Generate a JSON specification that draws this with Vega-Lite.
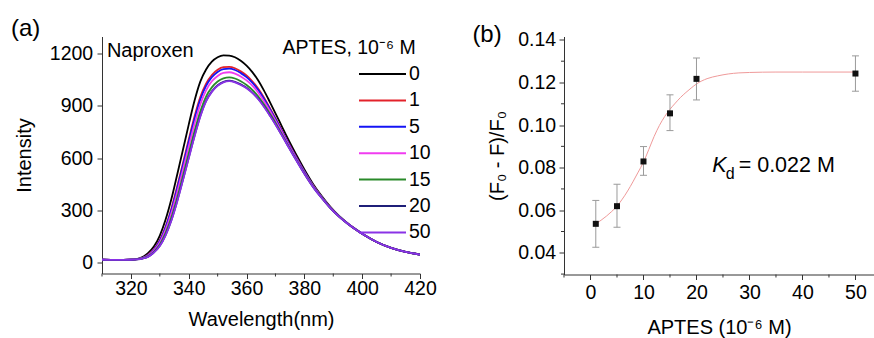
{
  "$schema": "https://vega.github.io/schema/vega-lite/v6.json",
  "padding": {"left": 10, "top": 16.5, "right": 0, "bottom": 0},
  "config": {
    "font": "Liberation Sans",
    "view": {"stroke": null},
    "concat": {"spacing": 144},
    "axis": {
      "domainColor": "#333", "tickColor": "#333", "labelColor": "#000", "titleColor": "#000",
      "labelFont": "Liberation Sans", "titleFont": "Liberation Sans",
      "labelFontSize": 19.5, "titleFontSize": 20, "titleFontWeight": "normal",
      "grid": false, "domainWidth": 1, "tickWidth": 1, "labelFlush": false, "labelOverlap": false
    }
  },
  "datasets": {
    "spectra": [
      {"wl":310,"s0":16,"s1":16,"s5":16,"s10":16,"s15":16,"s20":16,"s50":16},
      {"wl":315,"s0":15,"s1":15,"s5":15,"s10":15,"s15":15,"s20":15,"s50":15},
      {"wl":320,"s0":16,"s1":16,"s5":16,"s10":16,"s15":16,"s20":16,"s50":16},
      {"wl":322,"s0":20,"s1":19,"s5":19,"s10":19,"s15":18,"s20":18,"s50":18},
      {"wl":324,"s0":31,"s1":27,"s5":27,"s10":26,"s15":24,"s20":23,"s50":23},
      {"wl":326,"s0":55,"s1":46,"s5":44,"s10":41,"s15":37,"s20":34,"s50":34},
      {"wl":328,"s0":93,"s1":78,"s5":75,"s10":70,"s15":63,"s20":59,"s50":58},
      {"wl":330,"s0":155,"s1":129,"s5":124,"s10":116,"s15":104,"s20":96,"s50":95},
      {"wl":332,"s0":247,"s1":207,"s5":201,"s10":188,"s15":170,"s20":158,"s50":156},
      {"wl":334,"s0":365,"s1":311,"s5":302,"s10":285,"s15":260,"s20":244,"s50":242},
      {"wl":336,"s0":505,"s1":437,"s5":426,"s10":404,"s15":373,"s20":353,"s50":350},
      {"wl":338,"s0":648,"s1":571,"s5":559,"s10":534,"s15":499,"s20":476,"s50":473},
      {"wl":340,"s0":793,"s1":708,"s5":694,"s10":667,"s15":628,"s20":603,"s50":599},
      {"wl":342,"s0":930,"s1":839,"s5":825,"s10":796,"s15":755,"s20":728,"s50":724},
      {"wl":344,"s0":1040,"s1":951,"s5":937,"s10":909,"s15":868,"s20":842,"s50":838},
      {"wl":346,"s0":1110,"s1":1029,"s5":1016,"s10":990,"s15":954,"s20":930,"s50":926},
      {"wl":348,"s0":1155,"s1":1078,"s5":1066,"s10":1042,"s15":1007,"s20":984,"s50":981},
      {"wl":350,"s0":1180,"s1":1108,"s5":1096,"s10":1073,"s15":1041,"s20":1019,"s50":1016},
      {"wl":352,"s0":1191,"s1":1123,"s5":1112,"s10":1090,"s15":1059,"s20":1039,"s50":1036},
      {"wl":354,"s0":1190,"s1":1125,"s5":1115,"s10":1094,"s15":1065,"s20":1046,"s50":1043},
      {"wl":356,"s0":1180,"s1":1117,"s5":1107,"s10":1086,"s15":1058,"s20":1039,"s50":1036},
      {"wl":358,"s0":1160,"s1":1099,"s5":1089,"s10":1070,"s15":1042,"s20":1024,"s50":1021},
      {"wl":360,"s0":1132,"s1":1075,"s5":1066,"s10":1047,"s15":1021,"s20":1005,"s50":1002},
      {"wl":362,"s0":1095,"s1":1042,"s5":1034,"s10":1017,"s15":993,"s20":977,"s50":975},
      {"wl":364,"s0":1048,"s1":1000,"s5":993,"s10":978,"s15":956,"s20":942,"s50":940},
      {"wl":366,"s0":990,"s1":949,"s5":942,"s10":929,"s15":910,"s20":898,"s50":896},
      {"wl":368,"s0":925,"s1":890,"s5":885,"s10":874,"s15":858,"s20":848,"s50":846},
      {"wl":370,"s0":858,"s1":830,"s5":825,"s10":816,"s15":804,"s20":795,"s50":794},
      {"wl":372,"s0":790,"s1":767,"s5":763,"s10":756,"s15":745,"s20":738,"s50":737},
      {"wl":374,"s0":722,"s1":703,"s5":700,"s10":694,"s15":685,"s20":680,"s50":679},
      {"wl":376,"s0":657,"s1":641,"s5":639,"s10":634,"s15":626,"s20":622,"s50":621},
      {"wl":378,"s0":595,"s1":582,"s5":580,"s10":575,"s15":569,"s20":566,"s50":565},
      {"wl":380,"s0":535,"s1":524,"s5":523,"s10":519,"s15":515,"s20":511,"s50":511},
      {"wl":383,"s0":452,"s1":445,"s5":443,"s10":441,"s15":438,"s20":435,"s50":435},
      {"wl":386,"s0":382,"s1":377,"s5":376,"s10":375,"s15":373,"s20":371,"s50":371},
      {"wl":389,"s0":320,"s1":317,"s5":316,"s10":315,"s15":314,"s20":313,"s50":313},
      {"wl":392,"s0":268,"s1":266,"s5":266,"s10":265,"s15":265,"s20":264,"s50":264},
      {"wl":395,"s0":225,"s1":224,"s5":224,"s10":224,"s15":223,"s20":223,"s50":223},
      {"wl":398,"s0":188,"s1":188,"s5":188,"s10":187,"s15":187,"s20":187,"s50":187},
      {"wl":401,"s0":155,"s1":155,"s5":155,"s10":155,"s15":155,"s20":155,"s50":155},
      {"wl":405,"s0":118,"s1":118,"s5":118,"s10":118,"s15":118,"s20":118,"s50":118},
      {"wl":410,"s0":84,"s1":84,"s5":84,"s10":84,"s15":84,"s20":84,"s50":84},
      {"wl":415,"s0":61,"s1":61,"s5":61,"s10":61,"s15":61,"s20":61,"s50":61},
      {"wl":420,"s0":46,"s1":46,"s5":46,"s10":46,"s15":46,"s20":46,"s50":46}
    ],
    "points": [
      {"c":1,"r":0.0536,"lo":0.0426,"hi":0.0646},
      {"c":5,"r":0.0619,"lo":0.052,"hi":0.0722},
      {"c":10,"r":0.0829,"lo":0.0764,"hi":0.0899},
      {"c":15,"r":0.1055,"lo":0.0974,"hi":0.1142},
      {"c":20,"r":0.1217,"lo":0.1118,"hi":0.1315},
      {"c":50,"r":0.1242,"lo":0.1159,"hi":0.1325}
    ],
    "fit": [
      {"c":1,"r":0.0536},{"c":2,"r":0.0553},{"c":3,"r":0.0572},{"c":4,"r":0.0594},{"c":5,"r":0.0619},
      {"c":6,"r":0.0652},{"c":7,"r":0.069},{"c":8,"r":0.0733},{"c":9,"r":0.0779},{"c":10,"r":0.0826},
      {"c":11,"r":0.0885},{"c":12,"r":0.0946},{"c":13,"r":0.0998},{"c":14,"r":0.104},{"c":15,"r":0.1074},
      {"c":16,"r":0.1103},{"c":17,"r":0.113},{"c":18,"r":0.1153},{"c":19,"r":0.1174},{"c":20,"r":0.1193},
      {"c":22,"r":0.1218},{"c":24,"r":0.1231},{"c":26,"r":0.124},{"c":28,"r":0.1245},{"c":30,"r":0.1247},
      {"c":35,"r":0.1249},{"c":40,"r":0.1249},{"c":50,"r":0.1249}
    ],
    "aMinorX": [{"v":310},{"v":330},{"v":350},{"v":370},{"v":390},{"v":410}],
    "bMinorX": [{"v":-5},{"v":5},{"v":15},{"v":25},{"v":35},{"v":45}],
    "bMinorY": [{"v":0.03},{"v":0.05},{"v":0.07},{"v":0.09},{"v":0.11},{"v":0.13}]
  },
  "bounds": "flush",
  "hconcat": [
    {
      "width": 318,
      "height": 237,
      "layer": [
        {
          "data": {"name": "spectra"},
          "transform": [{"fold": ["s0","s1","s5","s10","s15","s20","s50"], "as": ["series","intensity"]}],
          "mark": {"type": "line", "strokeWidth": 1.8, "interpolate": "monotone"},
          "encoding": {
            "x": {
              "field": "wl", "type": "quantitative",
              "scale": {"domain": [310, 420], "nice": false, "zero": false},
              "axis": {
                "title": "Wavelength(nm)",
                "values": [320,340,360,380,400,420],
                "format": "d",
                "tickSize": 5,
                "labelPadding": 0.5, "titlePadding": 12
              }
            },
            "y": {
              "field": "intensity", "type": "quantitative",
              "scale": {"domain": [-63, 1299.5], "nice": false, "zero": false},
              "axis": {
                "title": "Intensity",
                "values": [0,150,300,450,600,750,900,1050,1200],
                "format": "d",
                "labelExpr": "datum.value % 300 === 0 ? datum.label : ''",
                "tickSize": {"condition": {"test": "datum.value % 300 === 0", "value": 5}, "value": 3},
                "labelPadding": 4.3, "titlePadding": 15
              }
            },
            "color": {
              "field": "series", "type": "nominal",
              "scale": {
                "domain": ["s0","s1","s5","s10","s15","s20","s50"],
                "range": ["#000000","#e3222b","#1414f5","#f03cf0","#2a8a2a","#1f1f78","#8a32e6"]
              },
              "legend": {
                "orient": "none", "legendX": 256, "legendY": 28, "title": null,
                "symbolType": "stroke", "symbolSize": 2209, "symbolStrokeWidth": 2,
                "clipHeight": 19, "rowPadding": 6.4, "padding": 0,
                "labelFontSize": 19.5, "labelFont": "Liberation Sans", "labelColor": "#000",
                "labelOffset": 2, "labelLimit": 0,
                "labelExpr": "replace(datum.label, 's', '')"
              }
            }
          }
        },
        {
          "data": {"name": "aMinorX"},
          "mark": {"type": "tick", "orient": "vertical", "color": "#333", "size": 3, "thickness": 1, "opacity": 1, "yOffset": 1.5},
          "encoding": {
            "x": {"field": "v", "type": "quantitative"},
            "y": {"datum": -63, "type": "quantitative"}
          }
        },
        {
          "data": {"values": [{}]},
          "mark": {"type": "text", "text": "(a)", "align": "left", "baseline": "alphabetic", "fontSize": 24, "font": "Liberation Sans", "color": "#000"},
          "encoding": {
            "x": {"datum": 278.5, "type": "quantitative"},
            "y": {"datum": 1301, "type": "quantitative"}
          }
        },
        {
          "data": {"values": [{}]},
          "mark": {"type": "text", "text": "Naproxen", "align": "left", "baseline": "alphabetic", "fontSize": 20, "font": "Liberation Sans", "color": "#000"},
          "encoding": {
            "x": {"datum": 311.7, "type": "quantitative"},
            "y": {"datum": 1180, "type": "quantitative"}
          }
        },
        {
          "data": {"values": [{}]},
          "mark": {"type": "text", "text": "APTES, 10⁻⁶ M", "align": "right", "baseline": "alphabetic", "fontSize": 19.5, "font": "Liberation Sans", "color": "#000"},
          "encoding": {
            "x": {"datum": 418.5, "type": "quantitative"},
            "y": {"datum": 1200, "type": "quantitative"}
          }
        }
      ]
    },
    {
      "width": 310,
      "height": 238,
      "layer": [
        {
          "data": {"name": "fit"},
          "mark": {"type": "line", "color": "#ef9a9a", "strokeWidth": 1, "interpolate": "monotone"},
          "encoding": {
            "x": {
              "field": "c", "type": "quantitative",
              "scale": {"domain": [-5, 53.5], "nice": false, "zero": false},
              "axis": {
                "title": "APTES (10⁻⁶ M)",
                "values": [0,10,20,30,40,50],
                "tickSize": 5,
                "labelPadding": 4.2, "titlePadding": 15
              }
            },
            "y": {
              "field": "r", "type": "quantitative",
              "scale": {"domain": [0.0298, 0.1416], "nice": false, "zero": false},
              "axis": {
                "title": "(F₀ - F)/F₀",
                "values": [0.04,0.06,0.08,0.1,0.12,0.14],
                "format": ".2f",
                "tickSize": 5,
                "labelPadding": 3.3, "titlePadding": 10
              }
            }
          }
        },
        {
          "data": {"name": "bMinorX"},
          "mark": {"type": "tick", "orient": "vertical", "color": "#333", "size": 3, "thickness": 1, "opacity": 1, "yOffset": 1.5},
          "encoding": {
            "x": {"field": "v", "type": "quantitative"},
            "y": {"datum": 0.0298, "type": "quantitative"}
          }
        },
        {
          "data": {"name": "bMinorY"},
          "mark": {"type": "tick", "orient": "horizontal", "color": "#333", "size": 3, "thickness": 1, "opacity": 1, "xOffset": -1.5},
          "encoding": {
            "x": {"datum": -5, "type": "quantitative"},
            "y": {"field": "v", "type": "quantitative"}
          }
        },
        {
          "data": {"name": "points"},
          "mark": {"type": "rule", "color": "#9a9a9a", "strokeWidth": 1},
          "encoding": {
            "x": {"field": "c", "type": "quantitative"},
            "y": {"field": "lo", "type": "quantitative"},
            "y2": {"field": "hi"}
          }
        },
        {
          "data": {"name": "points"},
          "mark": {"type": "tick", "orient": "horizontal", "color": "#9a9a9a", "size": 7, "thickness": 1, "opacity": 1},
          "encoding": {
            "x": {"field": "c", "type": "quantitative"},
            "y": {"field": "lo", "type": "quantitative"}
          }
        },
        {
          "data": {"name": "points"},
          "mark": {"type": "tick", "orient": "horizontal", "color": "#9a9a9a", "size": 7, "thickness": 1, "opacity": 1},
          "encoding": {
            "x": {"field": "c", "type": "quantitative"},
            "y": {"field": "hi", "type": "quantitative"}
          }
        },
        {
          "data": {"name": "points"},
          "mark": {"type": "point", "shape": "square", "filled": true, "size": 36, "color": "#111", "opacity": 1},
          "encoding": {
            "x": {"field": "c", "type": "quantitative"},
            "y": {"field": "r", "type": "quantitative"}
          }
        },
        {
          "data": {"values": [{}]},
          "mark": {"type": "text", "text": "(b)", "align": "left", "baseline": "alphabetic", "fontSize": 24, "font": "Liberation Sans", "color": "#000"},
          "encoding": {
            "x": {"datum": -22.29, "type": "quantitative"},
            "y": {"datum": 0.13925, "type": "quantitative"}
          }
        },
        {
          "data": {"values": [{}]},
          "mark": {"type": "text", "text": "K", "fontStyle": "italic", "align": "left", "baseline": "alphabetic", "fontSize": 21.5, "font": "Liberation Sans", "color": "#000"},
          "encoding": {
            "x": {"datum": 22.96, "type": "quantitative"},
            "y": {"datum": 0.0778, "type": "quantitative"}
          }
        },
        {
          "data": {"values": [{}]},
          "mark": {"type": "text", "text": "d", "align": "left", "baseline": "alphabetic", "fontSize": 16, "dx": 13.5, "dy": 6.6, "font": "Liberation Sans", "color": "#000"},
          "encoding": {
            "x": {"datum": 22.96, "type": "quantitative"},
            "y": {"datum": 0.0778, "type": "quantitative"}
          }
        },
        {
          "data": {"values": [{}]},
          "mark": {"type": "text", "text": "= 0.022 M", "align": "left", "baseline": "alphabetic", "fontSize": 21.5, "dx": 26.5, "font": "Liberation Sans", "color": "#000"},
          "encoding": {
            "x": {"datum": 22.96, "type": "quantitative"},
            "y": {"datum": 0.0778, "type": "quantitative"}
          }
        }
      ]
    }
  ]
}
